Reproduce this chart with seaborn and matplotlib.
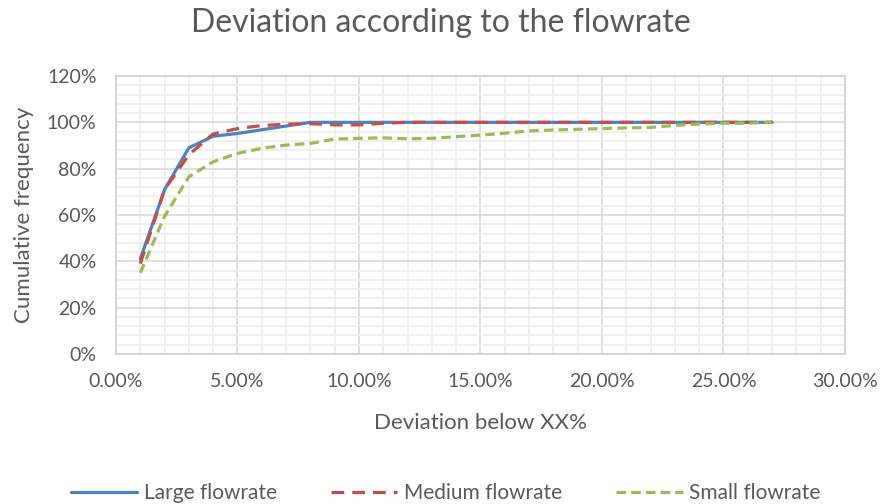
import matplotlib
matplotlib.use("Agg")
import matplotlib.pyplot as plt
from matplotlib.ticker import MultipleLocator, FuncFormatter
import seaborn as sns
import pandas as pd

# Deviation thresholds (%) and cumulative frequencies (%) per flowrate class
deviation = list(range(1, 28))
large = [41, 71, 89, 94, 95.2, 96.8, 98.4, 100, 100, 100, 100, 100, 100, 100,
         100, 100, 100, 100, 100, 100, 100, 100, 100, 100, 100, 100, 100]
medium = [39, 71, 86, 95, 97.3, 98.6, 99.2, 99.4, 98.9, 98.9, 99.6, 100, 100, 100,
          100, 100, 100, 100, 100, 100, 100, 100, 100, 100, 100, 100, 100]
small = [35, 59.5, 76.5, 83, 86.6, 88.8, 90.2, 90.9, 92.8, 93.1, 93.3, 92.9, 93.1, 93.8,
         94.5, 95.3, 96.3, 96.7, 97.0, 97.3, 97.6, 97.8, 98.7, 99.3, 99.6, 99.6, 100]
series_names = ["Large flowrate", "Medium flowrate", "Small flowrate"]

df = pd.DataFrame({
    "dev": deviation * 3,
    "freq": large + medium + small,
    "series": sum([[n] * len(deviation) for n in series_names], []),
})

sns.set_theme(style="white")
plt.rcParams["font.family"] = ["Lato", "DejaVu Sans"]
text_color = "#595959"

fig = plt.figure(figsize=(8.82, 5.04), dpi=100)
ax = fig.add_axes([0.1315, 0.2976, 0.8265, 0.5516])

colors = {"Large flowrate": "#4F81BD", "Medium flowrate": "#C0504D", "Small flowrate": "#9BBB59"}
dashes = {"Large flowrate": "", "Medium flowrate": (4.0, 2.5), "Small flowrate": (3.0, 1.6)}
lw = 2.3
sns.lineplot(data=df, x="dev", y="freq", hue="series", style="series",
             palette=colors, dashes=dashes, linewidth=lw, ax=ax, legend=False)

ax.set_xlim(0, 30)
ax.set_ylim(0, 120)
ax.xaxis.set_major_locator(MultipleLocator(5))
ax.xaxis.set_minor_locator(MultipleLocator(1))
ax.yaxis.set_major_locator(MultipleLocator(20))
ax.yaxis.set_minor_locator(MultipleLocator(4))
ax.xaxis.set_major_formatter(FuncFormatter(lambda v, p: f"{v:.2f}%"))
ax.yaxis.set_major_formatter(FuncFormatter(lambda v, p: f"{v:.0f}%"))
ax.grid(which="minor", color="#EEEEEE", linewidth=1.2)
ax.grid(which="major", color="#D9D9D9", linewidth=1.2)
ax.set_axisbelow(True)
for s in ax.spines.values():
    s.set_color("#D0D0D0")
    s.set_linewidth(1.2)
ax.tick_params(which="both", length=0, labelsize=14, colors=text_color)
ax.tick_params(axis="x", pad=14)
ax.tick_params(axis="y", pad=14)

ax.set_xlabel("Deviation below XX%", fontsize=16, color=text_color, labelpad=16)
ax.set_ylabel("Cumulative frequency", fontsize=16, color=text_color, labelpad=9)
fig.suptitle("Deviation according to the flowrate", fontsize=23, color=text_color, y=0.985)

handles = []
for n in series_names:
    h = plt.Line2D([], [], color=colors[n], linewidth=lw)
    if dashes[n]:
        h.set_dashes(dashes[n])
    handles.append(h)
fig.legend(handles, series_names, loc="lower center", ncol=3, frameon=False,
           fontsize=15, labelcolor=text_color, bbox_to_anchor=(0.505, -0.035),
           handlelength=3.2, columnspacing=2.6, handletextpad=0.3)

fig.savefig("out.png", dpi=100, facecolor="white")
